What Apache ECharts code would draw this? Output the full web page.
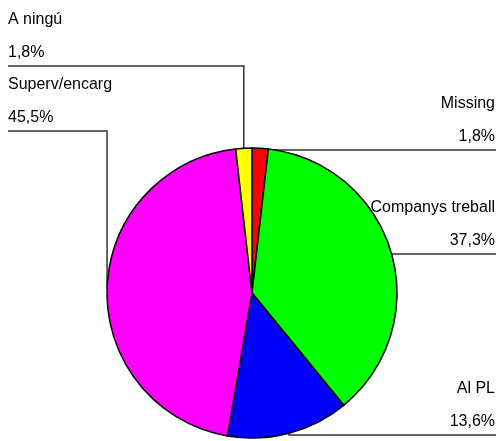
<!DOCTYPE html>
<html>
<head>
<meta charset="utf-8">
<script src="https://cdn.jsdelivr.net/npm/echarts@6/dist/echarts.min.js"></script>
<style>
html,body{margin:0;padding:0;background:#fff;}
#chart{width:496px;height:441px;}
</style>
</head>
<body>
<div id="chart"></div>
<script>
// Data (clockwise from 12 o'clock)
const categories = ['Missing', 'Companys treball', 'Al PL', 'Superv/encarg', 'A ningú'];
const values = [1.8, 37.3, 13.6, 45.5, 1.8];
const colors = ['#ff0000', '#00ff00', '#0000ff', '#ff00ff', '#ffff00'];

// Label placement (layout only)
const labelSide = ['right', 'right', 'right', 'left', 'left'];
const labelLineY = [150, 254, 435, 131, 66];

const chart = echarts.init(document.getElementById('chart'), null, {renderer: 'canvas'});

function fmt(v) { return v.toFixed(1).replace('.', ',') + '%'; }

chart.setOption({
  animation: false,
  backgroundColor: '#ffffff',
  series: [{
    type: 'pie',
    center: [252, 293],
    radius: [0, 145],
    startAngle: 90,
    clockwise: true,
    avoidLabelOverlap: false,
    data: categories.map((c, i) => ({
      name: c, value: values[i],
      itemStyle: {color: colors[i]}
    })),
    itemStyle: {borderColor: '#000', borderWidth: 1.5},
    emphasis: {disabled: true},
    label: {
      show: true,
      position: 'outside',
      formatter: p => p.name + '\n' + fmt(p.value),
      fontFamily: 'Liberation Sans, Arial, sans-serif',
      fontSize: 16,
      lineHeight: 33,
      color: '#000'
    },
    labelLine: {
      show: true,
      length: 10,
      length2: 10,
      lineStyle: {color: '#333', width: 1.5}
    },
    labelLayout: function (p) {
      const i = p.dataIndex;
      const left = labelSide[i] === 'left';
      const L = labelLineY[i];
      const p0 = p.labelLinePoints ? p.labelLinePoints[0] : [0, 0];
      return {
        x: left ? 8 : 495,
        y: L - 63,
        align: left ? 'left' : 'right',
        verticalAlign: 'top',
        hideOverlap: false,
        moveOverlap: null,
        labelLinePoints: [[p0[0], p0[1]], [p0[0], L], [left ? 8 : 496, L]]
      };
    }
  }]
});
</script>
</body>
</html>
